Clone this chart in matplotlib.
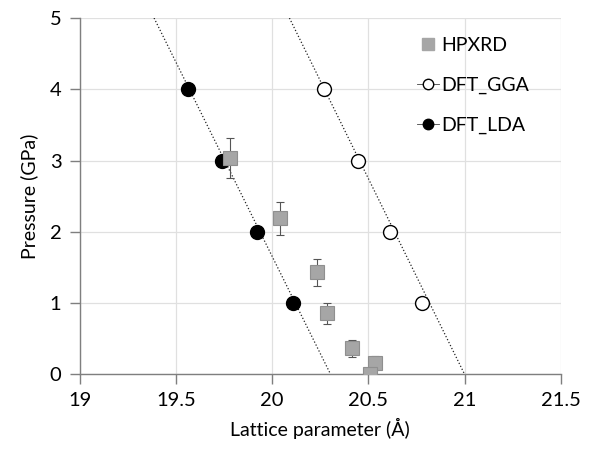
import numpy as np
import matplotlib
matplotlib.use("Agg")
import matplotlib.pyplot as plt

plt.rcParams["font.family"] = ["Lato", "DejaVu Sans"]

# HPXRD measurements
hp_lattice = [19.78, 20.04, 20.235, 20.285, 20.415, 20.535, 20.51]
hp_pressure = [3.04, 2.19, 1.43, 0.855, 0.365, 0.155, 0.0]
hp_err = [0.28, 0.23, 0.19, 0.15, 0.12, 0.10, 0.08]

# DFT calculations
dft_pressure = [4, 3, 2, 1]
gga_lattice = [20.27, 20.448, 20.612, 20.78]
lda_lattice = [19.565, 19.738, 19.923, 20.11]

# trend lines (pressure 5 -> 0)
fit_pressure = [5, 0]
gga_fit = [20.09, 21.0]
lda_fit = [19.387, 20.304]

fig = plt.figure(figsize=(5.98, 4.5), dpi=100)
ax = fig.add_axes([0.133, 0.168, 0.805, 0.792])

ax.plot(gga_fit, fit_pressure, ":", color="#222222", lw=0.9, zorder=2)
ax.plot(lda_fit, fit_pressure, ":", color="#222222", lw=0.9, zorder=2)

ax.plot(gga_lattice, dft_pressure, "o", ms=10, mfc="white", mec="black", mew=1.0, zorder=3)
ax.plot(lda_lattice, dft_pressure, "o", ms=10, mfc="black", mec="black", zorder=3)

ax.errorbar(hp_lattice, hp_pressure, yerr=hp_err, fmt="none", ecolor="#555555",
            elinewidth=0.8, capsize=3, capthick=0.8, zorder=4)
ax.plot(hp_lattice, hp_pressure, "s", ms=10, mfc="#a6a6a6", mec="#8f8f8f", mew=0.8, zorder=5)

# legend handles
h_hp, = ax.plot([], [], "s", ms=8, mfc="#a6a6a6", mec="#a6a6a6")
h_gga, = ax.plot([], [], "o-", ms=7.5, mfc="white", mec="black", color="#444444", lw=0.6)
h_lda, = ax.plot([], [], "o-", ms=7.5, mfc="black", mec="black", color="#444444", lw=0.6)
ax.legend([h_hp, h_gga, h_lda], ["HPXRD", "DFT_GGA", "DFT_LDA"],
          loc="upper left", bbox_to_anchor=(0.665, 0.997), frameon=False,
          fontsize=14, handlelength=1.1, handletextpad=0.15, labelspacing=1.18)

ax.set_xlim(19, 21.5)
ax.set_ylim(0, 5)
ax.set_xticks([19, 19.5, 20, 20.5, 21, 21.5])
ax.set_xticklabels(["19", "19.5", "20", "20.5", "21", "21.5"])
ax.set_yticks([0, 1, 2, 3, 4, 5])

ax.grid(True, color="#e0e0e0", lw=0.9)
ax.set_axisbelow(True)
for s in ["top", "right"]:
    ax.spines[s].set_visible(False)
for s in ["left", "bottom"]:
    ax.spines[s].set_color("#7f7f7f")
    ax.spines[s].set_linewidth(1.0)
ax.tick_params(direction="out", length=7, width=1.0, color="#7f7f7f",
               labelsize=14.5, pad=6)

ax.set_xlabel("Lattice parameter (Å)", fontsize=14, labelpad=6)
ax.set_ylabel("Pressure (GPa)", fontsize=14, labelpad=8)

fig.savefig("out.png", dpi=100)
